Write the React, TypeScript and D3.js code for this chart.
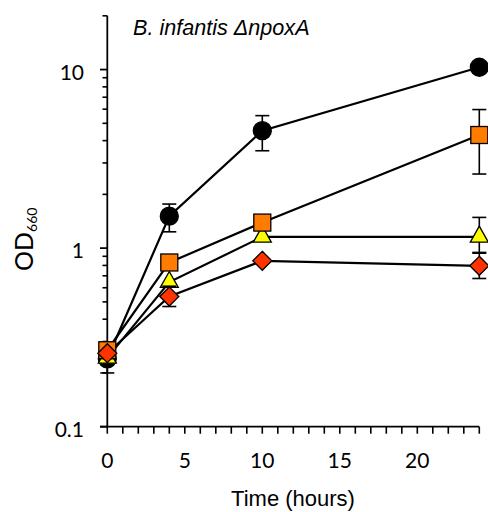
import React from "react";
import * as d3 from "d3";

const times = [0, 4, 10, 24];
const blackOD = [0.24, 1.51, 4.55, 10.3];
const blackErr: ([number, number] | null)[] = [[0.2, 0.285], [1.234, 1.765], [3.51, 5.52], [10.0, 10.6]];
const orangeOD = [0.268, 0.831, 1.39, 4.3];
const orangeErr: ([number, number] | null)[] = [[0.25, 0.29], null, null, [2.6, 5.97]];
const yellowOD = [0.243, 0.645, 1.157, 1.157];
const yellowErr: ([number, number] | null)[] = [[0.225, 0.26], null, null, [0.946, 1.486]];
const redOD = [0.258, 0.536, 0.849, 0.796];
const redErr: ([number, number] | null)[] = [null, [0.471, 0.612], null, [0.676, 0.937]];

const xTickLabels = [0, 5, 10, 15, 20];
const yTickLabels = [0.1, 1, 10];
const title = "B. infantis ΔnpoxA";

type Series = { values: number[]; err: ([number, number] | null)[]; shape: string; fill: string };
const series: Series[] = [
  { values: blackOD, err: blackErr, shape: "circle", fill: "#000000" },
  { values: yellowOD, err: yellowErr, shape: "triangle", fill: "#FFFF00" },
  { values: orangeOD, err: orangeErr, shape: "square", fill: "#FF7C00" },
  { values: redOD, err: redErr, shape: "diamond", fill: "#FF3300" },
];

export default function App() {
  const x = d3.scaleLinear().domain([0, 24]).range([107.3, 479.3]);
  const y = d3.scaleLog().domain([0.1, 20]).range([426.7, 15.8]);
  const line = d3
    .line<[number, number]>()
    .x((d) => x(d[0]))
    .y((d) => y(d[1]));

  const minorY: number[] = [];
  [0.1, 1, 10].forEach((dec) => {
    for (let k = 2; k <= 9; k++) {
      const v = dec * k;
      if (v <= 20) minorY.push(v);
    }
  });
  const xTicks = d3.range(0, 25, 1);

  const marker = (shape: string, cx: number, cy: number, fill: string, key: string) => {
    const st = { fill, stroke: "#000", strokeWidth: 1.3 };
    if (shape === "circle") return <circle key={key} cx={cx} cy={cy} r={9} {...st} />;
    if (shape === "square") return <rect key={key} x={cx - 8.5} y={cy - 8.5} width={17} height={17} {...st} />;
    if (shape === "triangle") {
      const h = 16, w = 18;
      return <path key={key} d={`M${cx},${cy - (2 * h) / 3}L${cx + w / 2},${cy + h / 3}L${cx - w / 2},${cy + h / 3}Z`} {...st} />;
    }
    const r = 9.5;
    return <path key={key} d={`M${cx},${cy - r}L${cx + r},${cy}L${cx},${cy + r}L${cx - r},${cy}Z`} {...st} />;
  };

  return (
    <svg width={488} height={512} style={{ position: "absolute", left: 0, top: 0 }}>
      <rect width={488} height={512} fill="#fff" />
      {/* title */}
      <text x={133} y={35} fontFamily="Liberation Sans, Arial, sans-serif" fontStyle="italic" fontSize={21.6} fill="#000">
        {title}
      </text>
      {/* y axis */}
      <line x1={107.3} x2={107.3} y1={y(20)} y2={y(0.1)} stroke="#000" strokeWidth={1.8} />
      {yTickLabels.map((v) => (
        <g key={"yt" + v}>
          <line x1={100} x2={107.3} y1={y(v)} y2={y(v)} stroke="#000" strokeWidth={1.8} />
          <text x={84} y={y(v) + 10} textAnchor="end" fontFamily="Lato, sans-serif" fontSize={21} fill="#000">
            {v}
          </text>
        </g>
      ))}
      {minorY.map((v) => (
        <line key={"ym" + v} x1={102.5} x2={107.3} y1={y(v)} y2={y(v)} stroke="#000" strokeWidth={1.6} />
      ))}
      {/* x axis */}
      <line x1={100} x2={x(24)} y1={y(0.1)} y2={y(0.1)} stroke="#000" strokeWidth={1.8} />
      {xTicks.map((t) => (
        <line key={"xt" + t} x1={x(t)} x2={x(t)} y1={y(0.1)} y2={y(0.1) + 7} stroke="#000" strokeWidth={1.6} />
      ))}
      {xTickLabels.map((t) => (
        <text key={"xl" + t} x={x(t)} y={468} textAnchor="middle" fontFamily="Lato, sans-serif" fontSize={21} fill="#000">
          {t}
        </text>
      ))}
      <text x={293} y={506} textAnchor="middle" fontFamily="Liberation Sans, Arial, sans-serif" fontSize={22} fill="#000">
        Time (hours)
      </text>
      {/* y label */}
      <text transform="translate(33,271) rotate(-90)" fontFamily="Lato, sans-serif" fontSize={25} fill="#000">
        OD
        <tspan fontSize={14} dy={4}>660</tspan>
      </text>
      {/* lines */}
      {series.map((s, i) => (
        <path
          key={"l" + i}
          d={line(times.map((t, j) => [t, s.values[j]] as [number, number])) || ""}
          fill="none"
          stroke="#000"
          strokeWidth={2.2}
        />
      ))}
      {/* error bars + markers */}
      {series.map((s, i) => (
        <g key={"s" + i}>
          {s.err.map((e, j) =>
            e ? (
              <g key={"e" + j} stroke="#000" strokeWidth={1.6}>
                <line x1={x(times[j])} x2={x(times[j])} y1={y(e[0])} y2={y(e[1])} />
                <line x1={x(times[j]) - 7} x2={x(times[j]) + 7} y1={y(e[0])} y2={y(e[0])} />
                <line x1={x(times[j]) - 7} x2={x(times[j]) + 7} y1={y(e[1])} y2={y(e[1])} />
              </g>
            ) : null
          )}
          {times.map((t, j) => marker(s.shape, x(t), y(s.values[j]), s.fill, "m" + i + "-" + j))}
        </g>
      ))}
    </svg>
  );
}
